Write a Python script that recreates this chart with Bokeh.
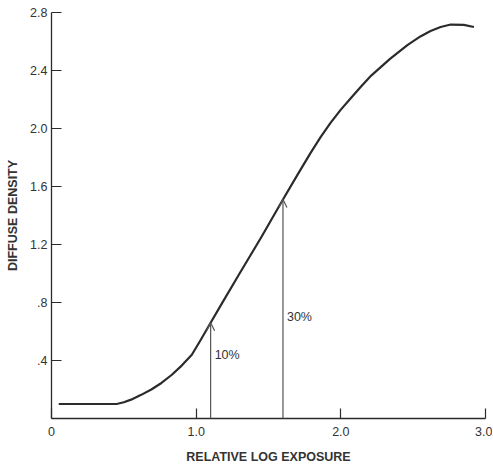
from bokeh.plotting import figure
from bokeh.models import Range1d, FixedTicker, Arrow, OpenHead, ColumnDataSource
from bokeh.core.properties import value
from bokeh.embed import file_html
from bokeh.resources import INLINE

# Characteristic curve
curve_x = [0.05, 0.30, 0.45, 0.50, 0.55, 0.62, 0.69, 0.76, 0.83, 0.90, 0.97,
           1.03, 1.10, 1.17, 1.30, 1.45, 1.60, 1.70, 1.79, 1.86, 1.93, 2.00,
           2.07, 2.14, 2.21, 2.34, 2.46, 2.55, 2.62, 2.69, 2.76, 2.85, 2.92]
curve_y = [0.10, 0.10, 0.10, 0.112, 0.13, 0.163, 0.20, 0.245, 0.30, 0.365, 0.44,
           0.54, 0.66, 0.78, 1.00, 1.25, 1.51, 1.68, 1.83, 1.94, 2.04, 2.13,
           2.21, 2.29, 2.365, 2.48, 2.575, 2.635, 2.672, 2.70, 2.717, 2.715, 2.70]

# Arrows marking exposure points
arrow_x = [1.1, 1.6]
arrow_base = [0.0, 0.0]
arrow_tip = [0.66, 1.51]
arrow_labels = ["10%", "30%"]
arrow_label_y = [0.44, 0.70]

# Axis ticks
x_ticks = [0, 1.0, 2.0, 3.0]
x_tick_labels = ["0", "1.0", "2.0", "3.0"]
y_ticks = [0.4, 0.8, 1.2, 1.6, 2.0, 2.4, 2.8]
y_tick_labels = [".4", ".8", "1.2", "1.6", "2.0", "2.4", "2.8"]

FONT = "Liberation Sans"
INK = "#2b2b2b"
TXT = "#333333"

p = figure(frame_width=434, frame_height=406,
           x_range=Range1d(0, 3.0), y_range=Range1d(0, 2.8),
           output_backend="svg", toolbar_location=None,
           min_border_left=51, min_border_right=7,
           min_border_top=12, min_border_bottom=46)
p.xgrid.visible = False
p.ygrid.visible = False
p.outline_line_color = None
p.background_fill_color = "white"
p.border_fill_color = "white"

for ax in (p.xaxis[0], p.yaxis[0]):
    ax.major_tick_in = 10
    ax.major_tick_out = 0
    ax.minor_tick_line_color = None
    ax.axis_line_color = INK
    ax.axis_line_width = 1.3
    ax.major_tick_line_color = INK
    ax.major_tick_line_width = 1.2
    ax.major_label_text_font = FONT
    ax.major_label_text_font_size = "12.5px"
    ax.major_label_text_color = TXT
    ax.axis_label_text_font = FONT
    ax.axis_label_text_font_size = "12.5px"
    ax.axis_label_text_font_style = "bold"
    ax.axis_label_text_color = TXT

p.xaxis.ticker = FixedTicker(ticks=x_ticks)
p.xaxis.major_label_overrides = dict(zip(x_ticks, x_tick_labels))
p.xaxis.major_label_standoff = 8
p.xaxis.axis_label = "RELATIVE LOG EXPOSURE"
p.xaxis.axis_label_standoff = 11

p.yaxis.ticker = FixedTicker(ticks=y_ticks)
p.yaxis.major_label_overrides = dict(zip(y_ticks, y_tick_labels))
p.yaxis.major_label_standoff = 4
p.yaxis.axis_label = "DIFFUSE DENSITY"
p.yaxis.axis_label_standoff = 7

p.line(curve_x, curve_y, line_color=INK, line_width=2.2, line_join="round")

src = ColumnDataSource(dict(x=arrow_x, y0=arrow_base, y1=arrow_tip))
p.add_layout(Arrow(source=src, x_start="x", y_start="y0", x_end="x", y_end="y1",
                   line_color="#555555", line_width=1.2,
                   end=OpenHead(size=8, line_color="#555555", line_width=1.2)))

p.text(x=arrow_x, y=arrow_label_y, text=arrow_labels, x_offset=4,
       text_font=value(FONT), text_font_size="12.5px", text_color=TXT,
       text_align="left", text_baseline="middle")

open("out.html", "w").write(file_html(p, INLINE))
